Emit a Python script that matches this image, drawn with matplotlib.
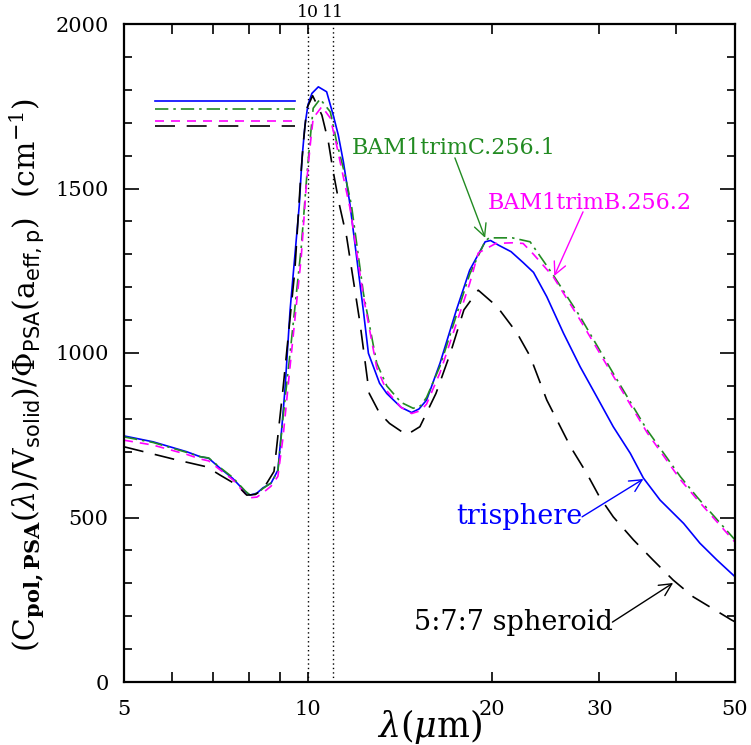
import matplotlib
matplotlib.use('Agg')
import matplotlib.pyplot as plt
from matplotlib.ticker import FixedLocator, FixedFormatter, NullFormatter, MultipleLocator

plt.rcParams['font.family'] = 'DejaVu Serif'
plt.rcParams['mathtext.fontset'] = 'dejavuserif'

# trisphere (blue, solid)
tri_x = [5.0, 5.58, 6.33, 6.66, 6.88, 7.18, 7.53, 7.9, 8.04, 8.25, 8.44, 8.7, 8.93, 9.05,
         9.17, 9.35, 9.68, 9.78, 9.89, 10.0, 10.15, 10.4, 10.73, 11.0, 11.21, 11.43, 11.72,
         12.33, 12.56, 13.1, 13.46, 14.2, 14.78, 15.2, 15.64, 16.45, 17.5, 18.4, 19.5,
         19.9, 20.5, 21.5, 22.5, 23.4, 24.6, 26.2, 27.9, 29.7, 31.6, 33.7, 35.4, 37.7,
         41.2, 43.8, 46.7, 50.0]
tri_y = [748, 730, 700, 685, 680, 650, 619, 578, 568, 574, 590, 604, 644, 760,
         888, 1131, 1450, 1592, 1693, 1754, 1789, 1809, 1794, 1723, 1663, 1581, 1450,
         1125, 999, 908, 877, 835, 819, 830, 857, 969, 1131, 1252, 1338,
         1342, 1328, 1308, 1275, 1245, 1171, 1060, 958, 867, 776, 695, 620, 553,
         482, 422, 371, 320]

# BAM1trimC.256.1 (green, dash-dot)
bamc_x = [5.0, 5.58, 6.33, 6.66, 6.88, 7.18, 7.53, 7.9, 8.04, 8.25, 8.44, 8.7, 8.93, 9.1,
          9.35, 9.75, 9.96, 10.1, 10.2, 10.47, 10.88, 11.14, 11.5, 11.78, 12.33, 12.96,
          13.46, 14.2, 14.87, 15.3, 15.64, 16.45, 17.5, 18.4, 19.5, 19.8, 21.6, 23.1,
          25.2, 27.9, 31.6, 35.9, 40.7, 43.3, 50.0]
bamc_y = [745, 728, 698, 685, 681, 652, 622, 580, 568, 573, 588, 605, 640, 800,
          1000, 1320, 1541, 1663, 1744, 1772, 1733, 1642, 1541, 1450, 1180, 969,
          900, 850, 832, 840, 865, 960, 1115, 1240, 1340, 1350, 1350, 1338,
          1237, 1110, 938, 766, 624, 563, 432]

# BAM1trimB.256.2 (magenta, dashed)
bamb_x = [5.0, 5.58, 6.33, 6.66, 6.88, 7.18, 7.53, 7.9, 8.04, 8.25, 8.44, 8.7, 8.93, 9.1,
          9.35, 9.75, 9.94, 10.1, 10.2, 10.54, 10.88, 11.14, 11.5, 11.72, 12.33, 12.96,
          13.46, 14.2, 14.78, 15.3, 15.64, 16.45, 17.5, 18.4, 19.0, 20.3, 21.6, 22.5,
          23.4, 25.2, 27.9, 31.6, 35.9, 40.7, 43.3, 50.0]
bamb_y = [735, 720, 692, 678, 672, 645, 615, 572, 560, 562, 575, 595, 625, 740,
          960, 1290, 1511, 1642, 1714, 1749, 1714, 1632, 1511, 1440, 1170, 955,
          885, 835, 816, 825, 845, 940, 1090, 1212, 1304, 1333, 1335, 1333,
          1300, 1232, 1100, 930, 758, 615, 556, 425]

# 5:7:7 spheroid (black, long dashes)
sph_x = [5.0, 6.1, 6.83, 7.18, 7.65, 7.94, 8.2, 8.44, 8.8, 9.1, 9.52, 9.72, 9.83, 9.96,
         10.18, 10.54, 10.8, 11.0, 11.26, 11.57, 12.17, 12.6, 13.1, 13.6, 14.5, 15.25,
         16.2, 17.1, 18.0, 19.0, 20.4, 22.0, 23.1, 24.6, 26.9, 28.6, 30.0, 31.6, 34.1,
         36.7, 39.6, 42.7, 49.4, 50.0]
sph_y = [715, 675, 654, 629, 599, 568, 570, 585, 640, 888, 1252, 1521, 1642, 1744,
         1782, 1723, 1642, 1551, 1450, 1353, 1090, 877, 817, 786, 751, 776,
         877, 999, 1131, 1191, 1141, 1060, 990, 857, 715, 634, 563, 502, 432,
         371, 310, 259, 188, 183]

# short horizontal reference levels at left
level_x = [5.62, 9.52]
level_tri = 1767
level_bamc = 1741
level_bamb = 1706
level_sph = 1690

vlines_x = [10, 11]

fig = plt.figure(figsize=(7.51, 7.45), dpi=100)
ax = fig.add_axes([124/751, 1 - 682/745, 611/751, 658/745])
ax.set_xscale('log')

blue = '#0000ff'
green = '#228b22'
magenta = '#ff00ff'
lw = 1.2

for xv in vlines_x:
    ax.axvline(xv, color='black', lw=1.0, dashes=(1, 2.2))

ax.plot(tri_x, tri_y, color=blue, lw=lw)
ax.plot(bamc_x, bamc_y, color=green, lw=lw, dashes=(8, 3, 1.5, 3))
ax.plot(bamb_x, bamb_y, color=magenta, lw=lw, dashes=(5.4, 4.2))
ax.plot(sph_x, sph_y, color='black', lw=lw, dashes=(12, 7))

ax.plot(level_x, [level_tri] * 2, color=blue, lw=lw)
ax.plot(level_x, [level_bamc] * 2, color=green, lw=lw, dashes=(8, 3, 1.5, 3))
ax.plot(level_x, [level_bamb] * 2, color=magenta, lw=lw, dashes=(5.4, 4.2))
ax.plot(level_x, [level_sph] * 2, color='black', lw=lw, dashes=(12, 7))

ax.set_xlim(5, 50)
ax.set_ylim(0, 2000)

ax.xaxis.set_major_locator(FixedLocator([5, 10, 20, 30, 50]))
ax.xaxis.set_major_formatter(FixedFormatter(['5', '10', '20', '30', '50']))
ax.xaxis.set_minor_locator(FixedLocator([6, 7, 8, 9, 40]))
ax.xaxis.set_minor_formatter(NullFormatter())
ax.yaxis.set_major_locator(MultipleLocator(500))
ax.yaxis.set_minor_locator(MultipleLocator(100))

ax.tick_params(which='both', direction='in', top=True, right=True, width=1.2, labelsize=15)
ax.tick_params(axis='x', which='both', length=7, pad=13)
ax.tick_params(axis='y', which='major', length=11, pad=11)
ax.tick_params(axis='y', which='minor', length=5.8)
for sp in ax.spines.values():
    sp.set_linewidth(1.6)

# top labels at the dotted lines
for xv in vlines_x:
    ax.text(xv, 1.018, str(xv), transform=ax.get_xaxis_transform(),
            ha='center', va='center', fontsize=12.5)

# annotations
arr = dict(arrowstyle='->', lw=1.0, mutation_scale=22, shrinkA=0, shrinkB=0)
ax.text(11.8, 1623, 'BAM1trimC.256.1', color=green, fontsize=16, ha='left', va='center')
ax.annotate('', xy=(19.5, 1350), xytext=(17.4, 1593), arrowprops=dict(arr, color=green))
ax.text(19.7, 1456, 'BAM1trimB.256.2', color=magenta, fontsize=16, ha='left', va='center')
ax.annotate('', xy=(25.3, 1234), xytext=(28.2, 1429), arrowprops=dict(arr, color=magenta))
ax.text(28.1, 502, 'trisphere', color=blue, fontsize=19.5, ha='right', va='center')
ax.annotate('', xy=(35.4, 617), xytext=(28.1, 502), arrowprops=dict(arr, color=blue))
ax.text(31.5, 182, '5:7:7 spheroid', color='black', fontsize=19.5, ha='right', va='center')
ax.annotate('', xy=(39.6, 301), xytext=(31.5, 182), arrowprops=dict(arr, color='black'))

fig.text(0.5719, 1 - 726/745, r'$\lambda(\mu\mathrm{m})$', ha='center', va='center', fontsize=25)
fig.text(0.037, 0.497,
         r'$(\mathrm{C}_{\mathbf{pol,PSA}}(\lambda)/\mathrm{V}_{\mathsf{solid}})/\Phi_{\mathsf{PSA}}(\mathrm{a}_{\mathsf{eff,p}})\ \ (\mathrm{cm}^{-1})$',
         rotation=90, ha='center', va='center', fontsize=21.5)

fig.savefig('out.png', dpi=100)
